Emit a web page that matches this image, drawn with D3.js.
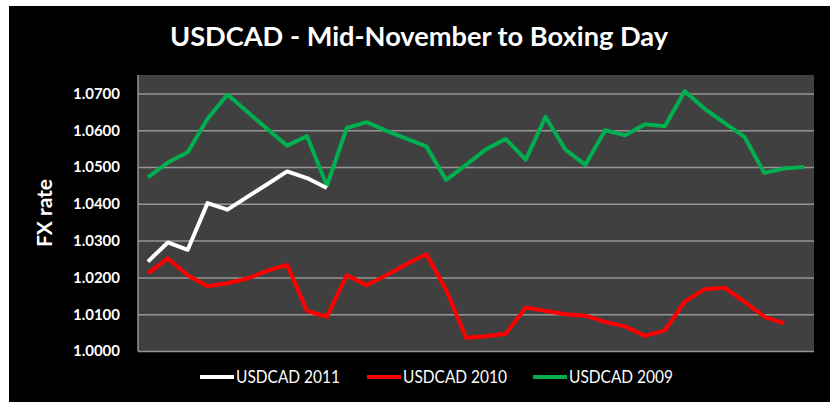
<!DOCTYPE html>
<html>
<head>
<meta charset="utf-8">
<script src="https://cdnjs.cloudflare.com/ajax/libs/d3/7.8.5/d3.min.js"></script>
<style>
  body { margin: 0; background: #fff; }
  svg text { font-family: Lato, "Open Sans", sans-serif; fill: #fff; }
</style>
</head>
<body>
<div id="chart"></div>
<script>
//category slots (trading days, unlabeled on the chart)
var days = [1, 2, 3, 4, 5, 6, 7, 8, 9, 10, 11, 12, 13, 14, 15, 16, 17,
            18, 19, 20, 21, 22, 23, 24, 25, 26, 27, 28, 29, 30, 31, 32, 33, 34];

//series values
var usdcad2011 = [1.0243, 1.0295, 1.0275, 1.0402, 1.0384, 1.0419, 1.0453, 1.0488, 1.0470, 1.0443];

var usdcad2010 = [1.0211, 1.0252, 1.0206, 1.0176, 1.0184, 1.0197, 1.0218, 1.0234, 1.0109, 1.0093,
                  1.0206, 1.0179, 1.0206, 1.0236, 1.0263, 1.0166, 1.0036, 1.0040, 1.0047, 1.0118,
                  1.0109, 1.0100, 1.0096, 1.0079, 1.0067, 1.0041, 1.0056, 1.0134, 1.0168, 1.0172,
                  1.0134, 1.0093, 1.0075];

var usdcad2009 = [1.0472, 1.0512, 1.0540, 1.0631, 1.0697, 1.0650, 1.0603, 1.0558, 1.0584, 1.0449,
                  1.0606, 1.0622, 1.0598, 1.0577, 1.0556, 1.0465, 1.0506, 1.0548, 1.0576, 1.0520,
                  1.0636, 1.0547, 1.0506, 1.0600, 1.0586, 1.0616, 1.0611, 1.0706, 1.0658, 1.0620,
                  1.0582, 1.0484, 1.0496, 1.0500];

var yTicks = [1.00, 1.01, 1.02, 1.03, 1.04, 1.05, 1.06, 1.07];

var seriesNames = ["USDCAD 2011", "USDCAD 2010", "USDCAD 2009"];
var seriesColors = ["#ffffff", "#ff0000", "#00b050"];

(function(){
  var width = 838, height = 402;
  var plot = {left: 138, top: 75, right: 814, bottom: 351};

  var svg = d3.select("#chart")
      .append("svg")
      .attr("width", width)
      .attr("height", height);

  //black chart frame
  svg.append("rect")
      .attr("x", 9).attr("y", 6)
      .attr("width", 821).attr("height", 396)
      .attr("fill", "#000");

  //title
  svg.append("text")
      .attr("x", 419)
      .attr("y", 46)
      .attr("text-anchor", "middle")
      .attr("font-size", 26)
      .attr("font-weight", "bold")
      .attr("textLength", 498)
      .attr("lengthAdjust", "spacingAndGlyphs")
      .text("USDCAD - Mid-November to Boxing Day");

  var x = d3.scalePoint()
      .domain(days)
      .range([plot.left, plot.right])
      .padding(0.5);

  var y = d3.scaleLinear()
      .domain([1.0, 1.075])
      .range([plot.bottom, plot.top]);

  //plot area background
  svg.append("rect")
      .attr("x", plot.left)
      .attr("y", plot.top)
      .attr("width", plot.right - plot.left)
      .attr("height", plot.bottom - plot.top)
      .attr("fill", "#404040");

  //gridlines + labels via axis
  var yAxis = d3.axisLeft(y)
      .tickValues(yTicks)
      .tickSize(-(plot.right - plot.left))
      .tickPadding(18)
      .tickFormat(d3.format(".4f"));

  var gy = svg.append("g")
      .attr("transform", "translate(" + plot.left + ",0)")
      .call(yAxis);
  gy.select(".domain").remove();
  gy.selectAll(".tick line")
      .attr("stroke", "#959595")
      .attr("stroke-width", 1.5);
  gy.selectAll(".tick text")
      .attr("fill", "#fff")
      .attr("font-size", 15)
      .attr("font-weight", "bold")
      .attr("font-family", "Lato, 'Open Sans', sans-serif")
      .attr("textLength", 47)
      .attr("lengthAdjust", "spacingAndGlyphs");

  //left axis line
  svg.append("line")
      .attr("x1", plot.left).attr("x2", plot.left)
      .attr("y1", plot.top).attr("y2", plot.bottom)
      .attr("stroke", "#959595")
      .attr("stroke-width", 1.5);

  //y axis title
  svg.append("text")
      .attr("transform", "translate(52,213) rotate(-90)")
      .attr("text-anchor", "middle")
      .attr("font-size", 21)
      .attr("font-weight", "bold")
      .attr("textLength", 68)
      .attr("lengthAdjust", "spacingAndGlyphs")
      .text("FX rate");

  var line = d3.line()
      .x(function(d, i){ return x(days[i]); })
      .y(function(d){ return y(d); });

  var allSeries = [usdcad2011, usdcad2010, usdcad2009];

  //draw 2009 first so 2011 sits on top
  [2, 1, 0].forEach(function(k){
    svg.append("path")
        .datum(allSeries[k])
        .attr("fill", "none")
        .attr("stroke", seriesColors[k])
        .attr("stroke-width", 4)
        .attr("stroke-linejoin", "round")
        .attr("d", line);
  });

  //legend
  var legendX = [200, 367, 533];
  var legend = svg.selectAll(".legendItem")
      .data(seriesNames)
      .enter()
      .append("g")
      .attr("class", "legendItem")
      .attr("transform", function(d, i){ return "translate(" + legendX[i] + ",377)"; });

  legend.append("line")
      .attr("x1", 0).attr("x2", 34)
      .attr("y1", 0).attr("y2", 0)
      .attr("stroke", function(d, i){ return seriesColors[i]; })
      .attr("stroke-width", 4);

  legend.append("text")
      .attr("x", 36)
      .attr("y", 6)
      .attr("font-size", 17)
      .attr("textLength", 104)
      .attr("lengthAdjust", "spacingAndGlyphs")
      .text(function(d){ return d; });
})();
</script>
</body>
</html>
